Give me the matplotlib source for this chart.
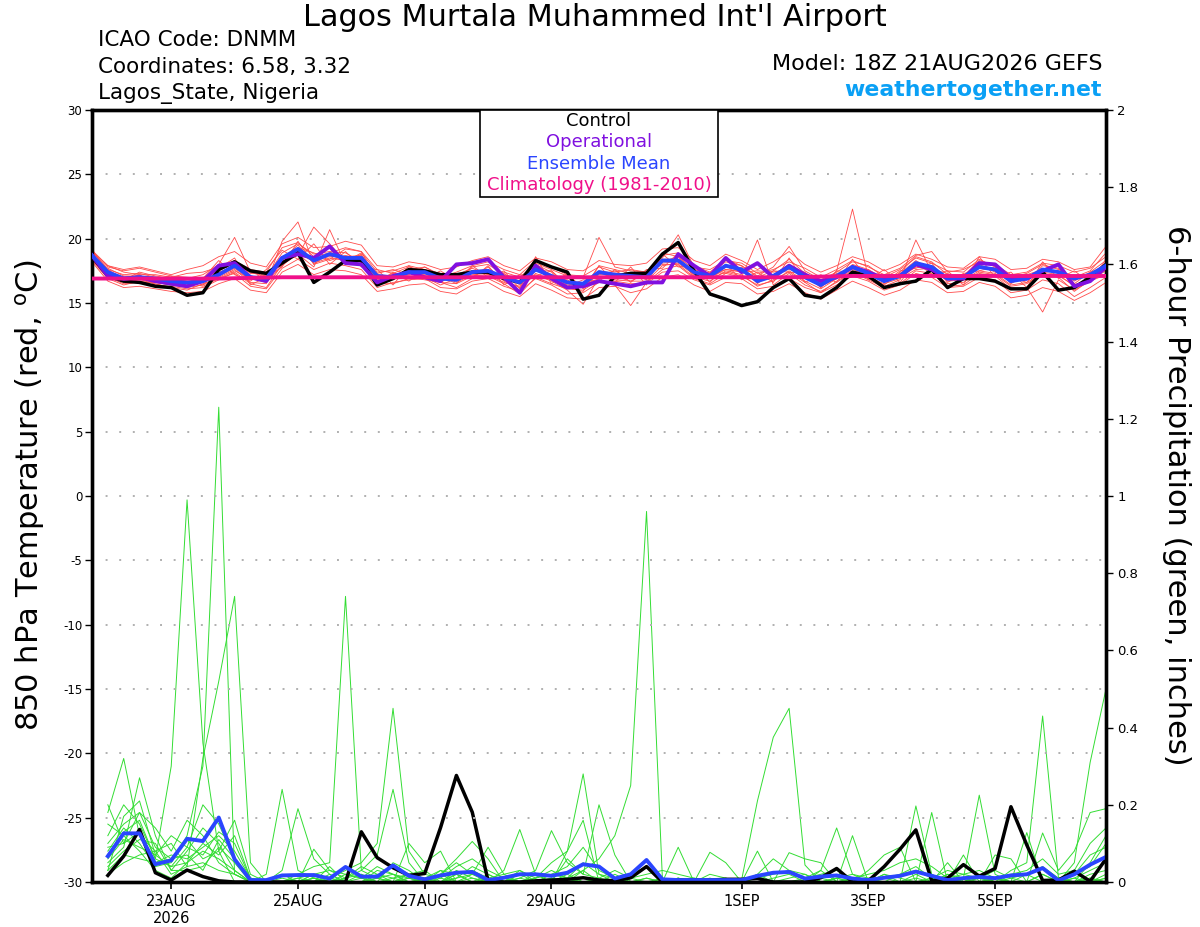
import matplotlib
matplotlib.use("Agg")
import matplotlib.pyplot as plt
from matplotlib.patches import Rectangle
import numpy as np
import pandas as pd

plt.rcParams['font.family'] = ['DejaVu Sans']
plt.rcParams['axes.unicode_minus'] = False

# 6-hourly valid times from the 18Z 21AUG2026 run
times = pd.date_range("2026-08-21 18:00", periods=65, freq="6h")

# 850 hPa temperature (deg C), 65 values each
control_temp = [
    18.6, 17.1, 16.7, 16.6, 16.3, 16.2, 15.6, 15.8, 17.6, 18.2, 17.5, 17.3, 18.1,
    18.9, 16.6, 17.4, 18.3, 18.3, 16.4, 16.9, 17.6, 17.5, 17.2, 17.2, 17.4, 17.4,
    16.9, 16.6, 18.3, 17.8, 17.4, 15.3, 15.6, 17.1, 17.3, 17.3, 18.8, 19.7, 17.5,
    15.7, 15.3, 14.8, 15.1, 16.2, 16.9, 15.6, 15.4, 16.2, 17.4, 17.1, 16.2, 16.5,
    16.7, 17.6, 16.2, 16.9, 16.9, 16.7, 16.1, 16.1, 17.4, 16.0, 16.2, 17.0, 18.0]
oper_temp = [
    18.7, 17.1, 16.9, 17.0, 16.7, 16.5, 16.3, 16.7, 17.9, 18.1, 17.0, 16.7, 18.5,
    18.8, 18.5, 19.4, 18.1, 18.0, 16.6, 17.1, 17.4, 17.0, 16.7, 18.0, 18.1, 18.4,
    17.0, 15.8, 17.9, 16.9, 16.2, 16.3, 16.7, 16.5, 16.3, 16.6, 16.6, 18.8, 17.9,
    17.1, 18.5, 17.4, 18.1, 17.0, 17.9, 17.2, 16.7, 17.0, 17.8, 17.4, 16.9, 17.1,
    18.0, 17.6, 16.9, 16.9, 18.1, 18.0, 16.9, 16.9, 17.5, 18.0, 16.3, 16.7, 17.8]
mean_temp = [
    18.7, 17.4, 16.9, 17.0, 16.9, 16.7, 16.6, 16.7, 17.2, 17.9, 17.0, 16.9, 18.5,
    19.2, 18.3, 18.8, 18.5, 18.5, 17.1, 17.0, 17.4, 17.4, 16.9, 16.8, 17.4, 17.5,
    17.0, 16.6, 17.6, 17.1, 16.6, 16.5, 17.4, 17.2, 17.1, 17.0, 18.3, 18.3, 17.4,
    17.1, 17.9, 17.6, 16.7, 17.1, 17.8, 17.0, 16.4, 17.1, 17.8, 17.3, 16.7, 17.1,
    18.1, 17.8, 16.9, 17.0, 17.8, 17.6, 16.7, 16.9, 17.6, 17.4, 16.9, 17.2, 17.9]

# climatology (1981-2010), one value per day
clim_days = pd.date_range("2026-08-21 18:00", periods=17, freq="1D")
clim_temp = [16.9, 16.9, 16.9, 17.0, 17.0, 17.0, 17.0, 17.0, 17.0,
             17.0, 17.0, 17.0, 17.1, 17.1, 17.1, 17.1, 17.1]

member_temps = [
    [19.0, 17.6, 17.2, 17.3, 17.0, 16.8, 16.9, 17.2, 18.0, 20.1, 17.4, 17.0, 18.9,
     19.6, 18.8, 19.0, 18.9, 18.2, 17.0, 16.8, 17.6, 17.8, 17.1, 16.5, 17.8, 18.0,
     17.2, 16.9, 18.0, 17.4, 16.2, 15.9, 17.9, 17.6, 17.3, 16.8, 18.9, 18.6, 17.6,
     17.3, 18.2, 17.9, 17.0, 17.5, 18.4, 17.3, 16.2, 17.5, 22.3, 17.0, 16.4, 17.4,
     18.6, 18.2, 17.2, 17.1, 18.3, 17.9, 17.0, 16.6, 17.9, 17.7, 16.5, 17.4, 18.3],
    [18.5, 17.2, 16.6, 16.8, 16.6, 16.4, 16.2, 16.4, 17.0, 17.6, 16.6, 16.5, 19.8,
     21.3, 18.0, 18.4, 19.2, 19.0, 16.7, 17.3, 17.1, 17.0, 16.4, 16.9, 17.0, 17.8,
     16.7, 16.2, 17.2, 16.7, 16.0, 14.9, 17.0, 16.8, 16.7, 17.3, 18.0, 18.0, 17.0,
     16.7, 17.5, 17.2, 16.3, 16.8, 17.4, 16.6, 15.8, 16.7, 17.4, 16.9, 16.3, 16.8,
     19.9, 17.4, 16.5, 16.6, 17.4, 17.2, 16.3, 16.5, 17.2, 17.0, 15.9, 16.8, 17.5],
    [18.9, 17.8, 17.5, 17.7, 17.4, 17.1, 17.0, 16.9, 17.5, 18.2, 17.3, 17.3, 18.2,
     18.7, 20.9, 19.6, 18.2, 18.9, 17.4, 17.5, 17.9, 17.6, 17.3, 17.2, 17.7, 17.2,
     17.4, 17.0, 18.1, 17.6, 17.1, 17.0, 20.1, 17.8, 17.5, 17.4, 18.5, 20.3, 17.8,
     17.6, 18.3, 18.1, 17.3, 17.6, 18.2, 17.7, 17.0, 17.6, 18.3, 17.8, 17.2, 17.7,
     18.7, 19.0, 17.4, 17.6, 18.2, 18.0, 17.2, 17.4, 18.1, 17.9, 17.4, 17.7, 18.6],
    [18.4, 17.0, 16.5, 16.6, 16.3, 16.3, 16.1, 16.2, 16.8, 17.4, 16.5, 16.2, 18.0,
     18.8, 17.8, 20.7, 18.0, 18.1, 16.5, 16.5, 16.9, 17.1, 16.6, 16.2, 16.9, 17.1,
     16.5, 15.7, 17.0, 16.5, 16.1, 16.0, 16.8, 16.4, 14.8, 16.6, 17.6, 17.9, 16.9,
     16.5, 17.3, 17.0, 19.9, 16.4, 17.3, 16.4, 15.9, 16.6, 17.4, 16.8, 16.2, 16.5,
     17.5, 17.3, 16.3, 16.4, 17.3, 17.1, 16.1, 16.2, 14.3, 16.8, 16.0, 16.7, 17.2],
    [19.1, 17.9, 17.4, 17.2, 17.2, 17.0, 17.3, 17.4, 17.8, 18.3, 17.6, 17.4, 19.3,
     19.7, 18.6, 18.9, 19.3, 19.0, 17.6, 17.3, 17.8, 17.5, 17.0, 17.4, 17.9, 18.2,
     17.6, 17.2, 18.3, 17.8, 17.2, 17.1, 17.8, 17.4, 17.6, 17.4, 18.7, 18.9, 17.9,
     17.4, 18.4, 17.9, 17.1, 17.8, 19.4, 17.5, 16.8, 17.4, 18.2, 17.9, 17.0, 17.6,
     18.5, 18.1, 17.5, 17.4, 18.4, 17.8, 17.0, 17.3, 18.0, 17.6, 17.0, 17.5, 18.9],
    [18.3, 16.9, 16.4, 16.7, 16.5, 16.2, 16.0, 16.5, 16.9, 17.3, 16.3, 16.1, 17.7,
     18.4, 17.6, 18.1, 17.9, 17.6, 16.2, 16.6, 16.8, 16.9, 16.2, 16.1, 16.7, 16.9,
     16.3, 15.9, 16.9, 16.4, 15.7, 15.8, 16.6, 16.7, 16.5, 16.5, 17.4, 17.5, 16.8,
     16.4, 17.0, 16.9, 16.1, 16.3, 16.9, 16.2, 15.8, 16.4, 17.1, 16.7, 16.0, 16.4,
     17.3, 17.0, 16.2, 16.3, 17.0, 16.8, 15.8, 16.0, 16.8, 16.5, 15.5, 16.2, 17.0],
    [18.8, 17.5, 17.0, 16.9, 16.8, 16.6, 16.5, 16.8, 17.3, 18.0, 17.1, 16.8, 18.6,
     19.0, 18.4, 18.6, 18.6, 18.7, 17.2, 17.1, 17.5, 17.3, 16.8, 16.9, 17.5, 17.6,
     16.9, 16.6, 17.8, 17.2, 16.7, 16.5, 17.5, 17.3, 17.0, 16.9, 18.4, 18.4, 17.3,
     17.0, 17.8, 17.6, 16.8, 17.1, 17.8, 17.0, 16.5, 17.2, 17.8, 17.3, 16.6, 17.2,
     18.0, 17.9, 16.9, 17.0, 17.9, 17.5, 16.6, 16.9, 17.6, 17.4, 16.8, 17.3, 17.9],
    [19.2, 17.3, 16.8, 17.4, 17.1, 16.9, 16.7, 16.6, 17.4, 17.8, 17.5, 17.1, 18.3,
     19.3, 18.9, 18.3, 18.7, 18.4, 17.3, 17.6, 17.2, 17.8, 17.2, 16.6, 17.2, 17.3,
     17.3, 16.4, 17.5, 17.5, 16.4, 16.6, 17.2, 17.5, 16.9, 17.5, 18.1, 18.2, 17.6,
     17.2, 17.6, 17.4, 17.5, 17.4, 17.6, 17.4, 16.3, 16.9, 18.0, 17.6, 16.9, 17.0,
     17.8, 17.6, 17.3, 16.8, 18.0, 17.4, 16.8, 17.1, 17.4, 17.2, 16.3, 17.0, 18.1],
    [18.6, 17.7, 17.1, 17.1, 16.7, 16.5, 16.4, 17.0, 17.1, 17.7, 16.8, 17.2, 18.4,
     19.5, 18.1, 18.5, 18.3, 18.6, 16.9, 16.9, 17.3, 17.2, 17.0, 17.1, 17.3, 17.4,
     16.8, 16.7, 17.6, 16.9, 16.8, 16.2, 17.3, 17.0, 17.2, 17.1, 18.2, 18.6, 17.1,
     17.0, 17.6, 17.5, 16.6, 17.2, 18.0, 16.9, 16.7, 17.3, 17.6, 17.2, 16.8, 17.3,
     18.3, 17.5, 17.0, 17.2, 17.7, 17.6, 16.7, 16.8, 17.7, 17.3, 16.9, 17.1, 18.0],
    [18.7, 17.1, 16.7, 16.6, 16.6, 16.4, 16.6, 16.3, 16.9, 17.5, 16.9, 16.6, 17.9,
     18.9, 18.2, 18.7, 18.4, 18.0, 16.8, 17.2, 17.0, 16.8, 16.6, 16.5, 17.1, 17.2,
     16.6, 16.3, 17.3, 16.8, 16.3, 16.4, 16.9, 17.1, 16.7, 16.7, 17.9, 18.1, 17.2,
     16.9, 17.4, 17.1, 16.4, 16.7, 17.5, 16.7, 16.1, 16.9, 17.5, 17.0, 16.5, 16.9,
     17.6, 17.7, 16.7, 16.8, 17.5, 17.3, 16.4, 16.6, 17.3, 17.1, 16.4, 16.9, 17.6],
    [19.0, 17.9, 17.6, 17.8, 17.5, 17.2, 17.6, 17.9, 18.6, 19.0, 18.1, 17.8, 19.6,
     20.1, 19.3, 19.4, 19.8, 19.5, 17.9, 17.8, 18.2, 18.0, 17.6, 17.8, 18.3, 18.6,
     17.9, 17.5, 18.5, 18.2, 17.6, 17.5, 18.3, 18.0, 17.9, 18.1, 19.2, 19.3, 18.3,
     17.9, 18.8, 18.3, 17.6, 18.2, 19.0, 18.0, 17.4, 17.9, 18.6, 18.2, 17.5, 18.0,
     18.8, 18.4, 17.8, 17.7, 18.6, 18.4, 17.6, 17.7, 18.4, 18.2, 17.6, 17.8, 19.4],
    [18.2, 16.7, 16.2, 16.3, 16.1, 15.9, 15.8, 15.9, 16.5, 16.9, 16.0, 15.8, 17.4,
     18.0, 17.2, 17.6, 17.5, 17.2, 15.9, 16.1, 16.4, 16.5, 15.9, 15.7, 16.4, 16.6,
     15.9, 15.5, 16.5, 16.0, 15.4, 15.3, 16.2, 16.3, 15.8, 16.1, 17.0, 17.2, 16.4,
     15.9, 16.6, 16.5, 15.7, 15.9, 16.5, 15.8, 15.3, 16.0, 16.7, 16.2, 15.6, 16.0,
     16.8, 16.6, 15.8, 15.9, 16.6, 16.3, 15.4, 15.6, 16.2, 15.9, 15.2, 15.8, 16.6],
    [18.9, 17.3, 17.0, 16.5, 16.9, 17.1, 16.2, 16.9, 18.3, 17.2, 16.7, 17.6, 19.1,
     18.4, 19.6, 18.0, 19.0, 17.8, 17.6, 16.4, 17.9, 16.9, 17.5, 16.7, 17.9, 17.0,
     17.5, 16.1, 18.6, 16.5, 17.3, 16.1, 17.9, 16.6, 17.8, 16.4, 18.8, 17.8, 17.9,
     16.6, 18.0, 16.8, 17.4, 16.6, 18.5, 16.6, 17.2, 16.6, 18.4, 16.8, 17.6, 16.6,
     18.2, 17.2, 17.5, 16.4, 18.6, 17.0, 17.4, 16.2, 18.2, 16.9, 17.5, 16.6, 18.4],
    [18.5, 17.6, 16.8, 17.2, 16.4, 16.7, 16.9, 16.4, 17.7, 18.5, 16.4, 17.0, 17.8,
     19.8, 18.0, 18.9, 18.2, 18.8, 16.6, 17.4, 16.7, 17.6, 16.6, 17.3, 16.9, 17.9,
     16.4, 17.2, 17.1, 17.5, 16.3, 16.8, 16.7, 17.6, 16.6, 17.6, 17.7, 18.9, 16.9,
     17.4, 17.3, 17.8, 16.5, 17.5, 17.4, 17.3, 16.2, 17.5, 17.4, 17.6, 16.6, 17.5,
     17.7, 18.1, 16.6, 17.3, 17.5, 17.8, 16.5, 17.2, 17.6, 17.5, 16.7, 17.4, 17.8],
]

# 6-hour precipitation (inches), 64 values each (first 6 h period onward)
control_precip = [
    0.017, 0.067, 0.136, 0.024, 0.005, 0.031, 0.014, 0.003,
    0, 0, 0, 0, 0, 0, 0, 0,
    0.13, 0.063, 0.037, 0.017, 0.022, 0.141, 0.276, 0.181,
    0.003, 0, 0, 0.003, 0.005, 0.007, 0.011, 0.005,
    0.003, 0.011, 0.04, 0, 0.005, 0.005, 0.005, 0.007,
    0.007, 0.009, 0, 0, 0, 0.011, 0.035, 0,
    0.003, 0.04, 0.085, 0.135, 0.003, 0.01, 0.045, 0.015,
    0.035, 0.195, 0.096, 0.004, 0.005, 0.028, 0.002, 0.06]
mean_precip = [
    0.067, 0.126, 0.126, 0.046, 0.056, 0.112, 0.106, 0.167,
    0.059, 0.005, 0.005, 0.017, 0.018, 0.018, 0.009, 0.039,
    0.014, 0.014, 0.043, 0.016, 0.007, 0.017, 0.024, 0.026,
    0.005, 0.011, 0.02, 0.02, 0.016, 0.024, 0.046, 0.04,
    0.009, 0.02, 0.057, 0.007, 0.005, 0.005, 0.005, 0.005,
    0.005, 0.016, 0.024, 0.026, 0.009, 0.014, 0.017, 0.009,
    0.005, 0.011, 0.016, 0.027, 0.016, 0.005, 0.01, 0.013,
    0.01, 0.017, 0.02, 0.036, 0.004, 0.02, 0.045, 0.065]

member_precips = [
    [0.12, 0.20, 0.15, 0.06, 0.30, 0.99, 0.36, 0.08,
     0, 0, 0, 0.02, 0, 0.01, 0, 0,
     0.02, 0, 0.01, 0, 0, 0, 0.03, 0.01,
     0, 0, 0.02, 0, 0.01, 0, 0.03, 0,
     0, 0, 0.01, 0, 0, 0, 0, 0,
     0, 0.01, 0, 0, 0, 0, 0.01, 0,
     0, 0, 0, 0.02, 0, 0, 0, 0.01,
     0, 0, 0.02, 0, 0, 0.01, 0.03, 0.05],
    [0.08, 0.14, 0.10, 0.04, 0.05, 0.12, 0.30, 1.23,
     0.02, 0, 0, 0.01, 0, 0.02, 0.01, 0,
     0, 0.03, 0.02, 0.01, 0, 0.02, 0.05, 0.02,
     0, 0.01, 0, 0.01, 0.03, 0.01, 0.05, 0.02,
     0, 0.01, 0, 0, 0.01, 0, 0, 0,
     0, 0, 0, 0.01, 0.02, 0, 0, 0.01,
     0, 0, 0.02, 0.03, 0.01, 0, 0, 0.02,
     0, 0.01, 0, 0, 0, 0.02, 0.04, 0.10],
    [0.18, 0.32, 0.12, 0.08, 0.02, 0.04, 0.32, 0.52,
     0.74, 0.05, 0, 0, 0, 0, 0, 0,
     0, 0.01, 0.02, 0, 0.01, 0.03, 0, 0,
     0.01, 0, 0, 0.02, 0, 0, 0.01, 0,
     0.02, 0, 0, 0.01, 0, 0, 0, 0,
     0, 0.02, 0, 0, 0.01, 0.03, 0, 0,
     0, 0.01, 0, 0, 0, 0.02, 0, 0,
     0.01, 0, 0, 0, 0.01, 0, 0.02, 0.03],
    [0.05, 0.09, 0.27, 0.12, 0.03, 0.08, 0.14, 0.10,
     0.03, 0, 0, 0, 0.02, 0.04, 0.05, 0.74,
     0.03, 0.01, 0, 0.02, 0.03, 0, 0.01, 0.04,
     0.02, 0, 0.03, 0.01, 0.05, 0.08, 0.28, 0.02,
     0.01, 0, 0, 0, 0, 0.01, 0, 0,
     0, 0, 0, 0, 0, 0, 0, 0.01,
     0, 0.02, 0, 0, 0.01, 0, 0, 0,
     0.01, 0, 0, 0, 0.01, 0, 0, 0.02],
    [0.03, 0.07, 0.06, 0.05, 0.07, 0.06, 0.09, 0.12,
     0.08, 0.01, 0, 0, 0, 0.01, 0, 0.02,
     0.01, 0, 0, 0.01, 0, 0, 0, 0.02,
     0.01, 0, 0.01, 0, 0.02, 0.01, 0.03, 0.06,
     0.12, 0.25, 0.96, 0.01, 0, 0, 0, 0,
     0, 0, 0, 0, 0, 0, 0.01, 0,
     0, 0.02, 0.01, 0, 0, 0, 0, 0,
     0, 0, 0, 0, 0, 0.01, 0, 0.01],
    [0.10, 0.15, 0.18, 0.09, 0.06, 0.11, 0.06, 0.08,
     0.16, 0.02, 0, 0, 0, 0, 0.01, 0,
     0, 0.02, 0, 0, 0.01, 0, 0.02, 0,
     0, 0.01, 0, 0, 0, 0.01, 0, 0,
     0, 0, 0, 0, 0.01, 0, 0.01, 0,
     0.005, 0.21, 0.375, 0.45, 0.044, 0, 0, 0,
     0, 0, 0, 0.01, 0, 0, 0.01, 0,
     0, 0, 0, 0, 0, 0, 0.01, 0],
    [0.06, 0.11, 0.09, 0.07, 0.04, 0.05, 0.10, 0.07,
     0.12, 0.01, 0, 0, 0, 0.02, 0.01, 0.03,
     0.05, 0.10, 0.45, 0.08, 0.02, 0.01, 0, 0,
     0.02, 0, 0, 0, 0.01, 0, 0, 0.01,
     0, 0, 0, 0, 0, 0, 0, 0,
     0, 0, 0.01, 0.02, 0, 0.01, 0, 0,
     0, 0, 0, 0, 0.01, 0.01, 0, 0.02,
     0, 0.03, 0.05, 0.43, 0.01, 0, 0.05, 0.12],
    [0.15, 0.12, 0.08, 0.03, 0.01, 0.05, 0.08, 0.06,
     0.03, 0, 0.02, 0.24, 0.03, 0.01, 0, 0.01,
     0.02, 0, 0, 0.01, 0, 0.03, 0.02, 0,
     0, 0.01, 0, 0, 0, 0.02, 0, 0,
     0.01, 0, 0, 0, 0, 0, 0, 0.01,
     0, 0, 0, 0, 0, 0, 0, 0,
     0.01, 0, 0, 0, 0, 0.01, 0, 0,
     0.01, 0, 0, 0.02, 0, 0.05, 0.31, 0.50],
    [0.04, 0.08, 0.11, 0.10, 0.03, 0.03, 0.04, 0.09,
     0.05, 0, 0, 0.03, 0.19, 0.06, 0.02, 0,
     0.01, 0, 0.05, 0.03, 0, 0, 0.01, 0.02,
     0.09, 0.02, 0, 0, 0, 0, 0, 0,
     0, 0, 0.01, 0, 0, 0, 0, 0,
     0, 0, 0, 0, 0, 0.03, 0.14, 0.02,
     0, 0, 0, 0, 0, 0.02, 0.01, 0.225,
     0.02, 0, 0, 0, 0, 0, 0.01, 0],
    [0.09, 0.10, 0.13, 0.05, 0.06, 0.07, 0.03, 0.11,
     0.06, 0.01, 0, 0, 0, 0.085, 0.03, 0.01,
     0.03, 0.07, 0.24, 0.05, 0, 0.02, 0, 0.01,
     0, 0.03, 0.136, 0.02, 0, 0, 0.01, 0,
     0, 0, 0, 0, 0, 0, 0, 0,
     0, 0, 0, 0, 0, 0, 0, 0,
     0, 0, 0, 0.197, 0.02, 0, 0, 0.01,
     0, 0, 0, 0.02, 0, 0, 0, 0.01],
    [0.02, 0.05, 0.07, 0.08, 0.10, 0.04, 0.05, 0.03,
     0.02, 0, 0, 0, 0.01, 0, 0.02, 0,
     0, 0.01, 0, 0.10, 0.05, 0.08, 0, 0,
     0, 0, 0.01, 0.03, 0.133, 0.05, 0.02, 0.20,
     0.07, 0, 0, 0, 0.09, 0, 0, 0,
     0, 0, 0, 0, 0, 0, 0, 0.12,
     0, 0, 0, 0, 0.18, 0, 0.07, 0,
     0, 0, 0.128, 0, 0, 0, 0, 0],
    [0.07, 0.13, 0.16, 0.06, 0.04, 0.09, 0.07, 0.13,
     0.10, 0.01, 0, 0, 0, 0, 0.04, 0,
     0, 0, 0, 0, 0, 0.02, 0.06, 0.105,
     0.06, 0, 0, 0, 0, 0.08, 0.16, 0,
     0, 0, 0, 0, 0, 0, 0.077, 0.05,
     0, 0.08, 0, 0.076, 0.06, 0.05, 0, 0,
     0.03, 0.07, 0.09, 0, 0, 0.05, 0, 0,
     0.07, 0.06, 0, 0.127, 0.03, 0.08, 0.18, 0.19],
    [0.20, 0.10, 0.18, 0.14, 0.08, 0.16, 0.12, 0.05,
     0.02, 0, 0, 0, 0.01, 0.02, 0.03, 0.02,
     0.01, 0.04, 0.02, 0, 0, 0.01, 0.04, 0.06,
     0.03, 0.01, 0, 0.01, 0.02, 0.04, 0.09, 0.03,
     0.01, 0.02, 0.04, 0, 0.01, 0, 0.02, 0.01,
     0, 0.01, 0.02, 0.03, 0.01, 0.02, 0.03, 0.01,
     0.02, 0.03, 0.05, 0.06, 0.04, 0.01, 0.02, 0.03,
     0.01, 0.02, 0.03, 0.06, 0.02, 0.03, 0.10, 0.14],
    [0.03, 0.17, 0.21, 0.07, 0.12, 0.09, 0.20, 0.15,
     0.06, 0, 0, 0, 0, 0.01, 0, 0.01,
     0.04, 0.02, 0.01, 0.02, 0.01, 0, 0.02, 0.03,
     0.01, 0.02, 0.03, 0, 0, 0.06, 0.02, 0.01,
     0.03, 0.01, 0.02, 0.03, 0.02, 0.01, 0, 0,
     0, 0.02, 0.06, 0.03, 0.02, 0, 0.01, 0.02,
     0.01, 0.01, 0.02, 0.04, 0.01, 0.03, 0.02, 0.01,
     0.03, 0.01, 0.02, 0.04, 0.01, 0.02, 0.07, 0.09],
]

tick_dates = ["2026-08-23", "2026-08-25", "2026-08-27", "2026-08-29",
              "2026-09-01", "2026-09-03", "2026-09-05"]
tick_labels = ["23AUG\n2026", "25AUG", "27AUG", "29AUG", "1SEP", "3SEP", "5SEP"]

W, H = 1200, 927
fig = plt.figure(figsize=(W / 100, H / 100), dpi=100)


def fx(px):
    return px / W


def fy(py):
    return 1 - py / H


ax = fig.add_axes([fx(92), fy(882), fx(1106) - fx(92), fy(110) - fy(882)])
ax2 = ax.twinx()

precip_times = times[1:]

# precipitation on the right axis
for p in member_precips:
    ax2.plot(precip_times, p, color="#33dd33", lw=0.7, zorder=2)
ax2.plot(precip_times, control_precip, color="black", lw=2.5, zorder=3)
ax2.plot(precip_times, mean_precip, color="#2a45ff", lw=2.8, zorder=4)

# temperature on the left axis
for m in member_temps:
    ax.plot(times, m, color="#ff4a4a", lw=0.6, zorder=2)
ax.plot(times, control_temp, color="black", lw=2.5, zorder=3)
ax.plot(times, oper_temp, color="#8010e0", lw=2.8, zorder=4)
ax.plot(times, mean_temp, color="#2a45ff", lw=2.8, zorder=5)
ax.plot(clim_days, clim_temp, color="#f0108a", lw=2.8, zorder=6)

ax.set_zorder(ax2.get_zorder() + 1)
ax.patch.set_visible(False)

ax.set_xlim(times[0], times[-1])
ax.set_ylim(-30, 30)
ax2.set_ylim(0, 2)

ax.set_yticks(np.arange(-30, 31, 5))
ax2.set_yticks(np.round(np.arange(0, 2.01, 0.2), 1))
ax2.set_yticklabels(["0", "0.2", "0.4", "0.6", "0.8", "1",
                     "1.2", "1.4", "1.6", "1.8", "2"])
for yv in range(-25, 30, 5):
    ax.axhline(yv, color="#b0b0b0", lw=1.4, ls=(0, (1, 6)), zorder=1)

ax.set_xticks(pd.to_datetime(tick_dates))
ax.set_xticklabels(tick_labels, fontsize=10.5, linespacing=1.1)
ax.tick_params(axis="x", direction="out", length=5, width=1.2, pad=4)
ax.tick_params(axis="y", direction="out", length=5, width=1, labelsize=8.5, pad=2)
ax2.tick_params(axis="y", direction="out", length=5, width=1, labelsize=9.5, pad=3)

for a in (ax, ax2):
    for s in a.spines.values():
        s.set_linewidth(2.4)

# headings
fig.text(fx(595), fy(18), "Lagos Murtala Muhammed Int'l Airport",
         ha="center", va="center", fontsize=21.8)
fig.text(fx(98), fy(40), "ICAO Code: DNMM", ha="left", va="center", fontsize=15.5)
fig.text(fx(98), fy(67), "Coordinates: 6.58, 3.32", ha="left", va="center", fontsize=15.5)
fig.text(fx(98), fy(93), "Lagos_State, Nigeria", ha="left", va="center", fontsize=15.5)
fig.text(fx(1102), fy(64), "Model: 18Z 21AUG2026 GEFS", ha="right", va="center",
         fontsize=16)
fig.text(fx(1102), fy(90), "weathertogether.net", ha="right", va="center",
         fontsize=15.8, fontweight="bold", color="#0aa0f5")

# axis titles
fig.text(fx(30), fy(495), "850 hPa Temperature (red, $^{\\rm o}$C)", rotation=90,
         ha="center", va="center", fontsize=22)
fig.text(fx(1177), fy(495), "6-hour Precipitation (green, inches)", rotation=270,
         ha="center", va="center", fontsize=22)

# legend box
box = Rectangle((fx(480), fy(197)), fx(718) - fx(480), fy(110) - fy(197),
                transform=fig.transFigure, facecolor="white", edgecolor="black",
                lw=1.2, zorder=20)
fig.add_artist(box)
legend_items = [("Control", "black"), ("Operational", "#8010e0"),
                ("Ensemble Mean", "#2a45ff"), ("Climatology (1981-2010)", "#f0108a")]
for k, (txt, col) in enumerate(legend_items):
    fig.text(fx(599), fy(121 + 21.3 * k), txt, color=col, ha="center", va="center",
             fontsize=13, zorder=21)

fig.savefig("out.png", dpi=100)
